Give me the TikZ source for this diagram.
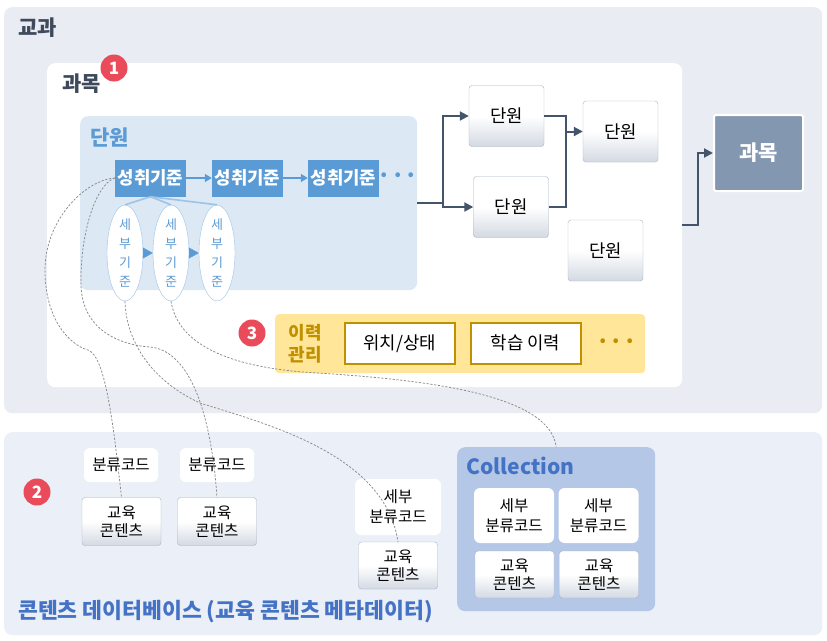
\documentclass[tikz,border=0pt]{standalone}
\usepackage{fontspec}
\newfontfamily\kr{Noto Sans CJK KR}
\usetikzlibrary{matrix,backgrounds,arrows.meta,positioning,shapes.geometric}
\definecolor{panelgray}{HTML}{E9ECF2}
\definecolor{inkdark}{HTML}{44546A}
\definecolor{titledark}{HTML}{3E4A5B}
\definecolor{unitbg}{HTML}{DDE8F5}
\definecolor{stdblue}{HTML}{5B9BD5}
\definecolor{ellline}{HTML}{9DC3E6}
\definecolor{badgered}{HTML}{E94B5B}
\definecolor{histbg}{HTML}{FFE699}
\definecolor{histgold}{HTML}{BF9000}
\definecolor{dbbg}{HTML}{EBEFF8}
\definecolor{dbblue}{HTML}{4472C4}
\definecolor{collbg}{HTML}{B4C7E7}
\definecolor{subjgray}{HTML}{8497B0}
\definecolor{boxline}{HTML}{A7B3C4}
\definecolor{boxshade}{HTML}{D3D9E3}
\definecolor{linkgray}{HTML}{8A8A8A}
\newcommand{\fsz}[2]{\fontsize{#1}{#2}\selectfont}

\begin{document}
\begin{tikzpicture}[x=1pt,y=-1pt,font=\kr,
panel/.style={anchor=north west,inner sep=0pt,rounded corners=8pt},
heading/.style={anchor=west,inner sep=0pt,font=\kr\bfseries\fsz{21}{25}},
badge/.style={circle,fill=badgered,text=white,minimum size=27pt,inner sep=0pt,font=\kr\bfseries\fsz{17}{17}},
std/.style={fill=stdblue,text=white,minimum width=71pt,minimum height=37pt,inner sep=0pt,font=\kr\bfseries\fsz{17.8}{20}},
detail/.style={ellipse,draw=ellline,fill=white,minimum width=36pt,minimum height=96pt,inner sep=0pt},
detailtext/.style={text=stdblue,align=center,font=\kr\fsz{13}{19}},
unit/.style={draw=boxline,rounded corners=3pt,top color=white,bottom color=boxshade,middle color=white,inner sep=0pt,align=center,minimum width=75pt,minimum height=61pt,font=\kr\fsz{17.8}{20}},
content/.style={unit,minimum width=79pt,minimum height=48pt,font=\kr\fsz{15.6}{18}},
code/.style={fill=white,rounded corners=6pt,inner sep=0pt,align=center,font=\kr\fsz{15.6}{20}},
subject/.style={fill=subjgray,draw=white,line width=2pt,rounded corners=2pt,text=white,minimum width=89pt,minimum height=76pt,font=\kr\bfseries\fsz{21}{25}},
histrow/.style={matrix of nodes,column sep=14pt,
  nodes={draw=histgold,line width=2pt,fill=white,minimum width=110pt,minimum height=41pt,inner sep=0pt,font=\kr\fsz{17.8}{20}},
  column 3/.style={nodes={draw=none,fill=none,minimum width=0pt,inner sep=1pt,text=histgold,font=\kr\bfseries\fsz{22}{22}}}},
flow/.style={draw=inkdark,line width=2pt,-{Triangle[length=9pt,width=9pt]}},
next/.style={draw=stdblue,line width=1.5pt,-{Triangle[length=7pt,width=8pt]}},
spoke/.style={draw=ellline,line width=1.6pt},
link/.style={draw=linkgray,dash pattern=on 2.2pt off 1.6pt,line width=0.75pt}]
\useasboundingbox (0,0) rectangle (827,640);
\fill[white] (0,0) rectangle (827,640);

\node[panel,fill=panelgray,minimum width=818pt,minimum height=406pt] (gyogwa) at (4,7) {};
\node[panel,fill=white,minimum width=635pt,minimum height=324pt] (gwamok) at (47,63) {};
\node[panel,fill=unitbg,minimum width=337pt,minimum height=174pt] (danwon) at (80,116) {};
\node[panel,fill=histbg,rounded corners=4pt,minimum width=370pt,minimum height=59pt] (hist) at (275,314) {};
\node[panel,fill=dbbg,minimum width=818pt,minimum height=203pt] (db) at (4,432) {};
\node[panel,fill=collbg,minimum width=198pt,minimum height=164pt] (coll) at (457,447) {};

\node[heading,text=titledark] (gyogwatitle) at (18,28) {교과};
\node[heading,text=titledark] (gwamoktitle) at (62,84) {과목};
\node[badge] (badge1) at (114,68) {1};
\node[heading,text=stdblue] (danwontitle) at (90,137) {단원};

\node[std] (sc1) at (150.5,178) {성취기준};
\node[std] (sc2) at (247.5,178) {성취기준};
\node[std] (sc3) at (343.5,178) {성취기준};
\node[text=stdblue,font=\kr\bfseries\fsz{22}{22}] (scmore) at (398,178) {···};
\draw[next] (sc1) -- (sc2);
\draw[next] (sc2) -- (sc3);

\foreach \i/\x in {1/125,2/171,3/217}{
  \node[detail,label={[detailtext]center:세\\부\\기\\준}] (d\i) at (\x,253) {};
  \draw[spoke] (sc1.south) -- (d\i.north);
}
\draw[stdblue,-{Triangle[length=10pt,width=11pt]}] (d1.east) -- (d2.west);
\draw[stdblue,-{Triangle[length=10pt,width=11pt]}] (d2.east) -- (d3.west);

\node[unit] (u1) at (506.5,116) {단원};
\node[unit] (u2) at (620.5,131.5) {단원};
\node[unit] (u3) at (511,207) {단원};
\node[unit] (u4) at (605.5,250.5) {단원};
\node[subject] (subj) at (758.5,153) {과목};

\draw[flow,-] (danwon.east) -- ++(26,0) coordinate (split);
\draw[flow] (split) |- (u1.west);
\draw[flow] (split) |- (u3.west);
\draw[flow,-] (u1.east) -- ++(22,0) coordinate (merge) |- (u3.east);
\draw[flow] (merge |- u2.west) -- (u2.west);
\draw[flow] (gwamok.east) -- ++(16,0) |- (subj.west);

\node[badge] (badge3) at (252,333) {3};
\node[text=histgold,align=center,inner sep=0pt,font=\kr\bfseries\fsz{18}{22}] (histtitle) at (305,344) {이력\\관리};
\matrix[histrow,anchor=west] (histm) at (340,343.5) {위치/상태 & 학습 이력 & ···\\};

\node[badge] (badge2) at (37,492) {2};
\node[code,minimum width=74pt,minimum height=34pt] (code1) at (121,465) {분류코드};
\node[code,minimum width=74pt,minimum height=34pt] (code2) at (217,465) {분류코드};
\node[content] (cont1) at (121.5,521.5) {교육\\콘텐츠};
\node[content] (cont2) at (217,521.5) {교육\\콘텐츠};
\node[code,minimum width=86pt,minimum height=56pt] (code3) at (398,507) {세부\\분류코드};
\node[content,minimum height=47pt] (cont3) at (398,565.5) {교육\\콘텐츠};

\node[heading,text=dbblue] (colltitle) at (466,466) {Collection};
\node[code,minimum width=80pt,minimum height=55pt] (cs1) at (514,515.5) {세부\\분류코드};
\node[code,minimum width=80pt,minimum height=55pt] (cs2) at (598.5,515.5) {세부\\분류코드};
\node[content,minimum height=47pt] (cc1) at (514.5,574.5) {교육\\콘텐츠};
\node[content,minimum height=47pt] (cc2) at (599,574.5) {교육\\콘텐츠};

\node[heading,text=dbblue,font=\kr\bfseries\fsz{21.6}{25}] (dbtitle) at (18,612) {콘텐츠 데이터베이스 (교육 콘텐츠 메타데이터)};

% links to the content database
\draw[link] (sc1.west) .. controls (85,180) and (45,220) .. (45,270) .. controls (45,320) and (70,345) .. (88,350) .. controls (105,356) and (113,420) .. (cont1.north);
\draw[link] (sc1.west) .. controls (95,185) and (80,235) .. (81,285) .. controls (82,330) and (120,345) .. (150,347) .. controls (185,350) and (210,400) .. (cont2.north);
\draw[link] (d1.south) .. controls (126,340) and (150,380) .. (200,403) .. controls (270,425) and (385,455) .. (cont3.north);
\draw[link] (d2.south) .. controls (178,345) and (230,368) .. (317,373) .. controls (430,380) and (550,395) .. (coll.north);
\end{tikzpicture}
\end{document}
